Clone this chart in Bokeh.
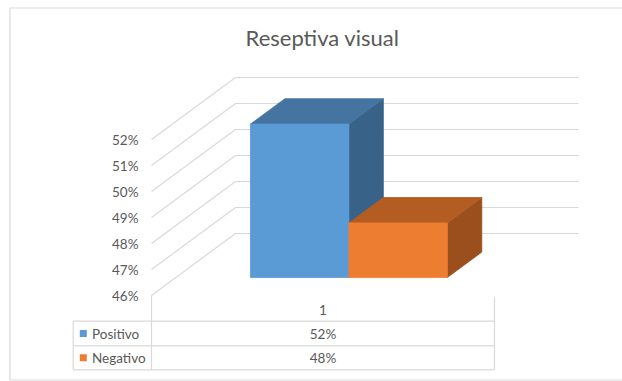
from bokeh.plotting import figure
from bokeh.models import Range1d
from bokeh.core.properties import value
from bokeh.embed import file_html
from bokeh.resources import INLINE

# ---------------- data ----------------
title_text = "Reseptiva visual"
categories = ["1"]
series_names = ["Positivo", "Negativo"]
series_values = [51.9, 48.1]          # percent
series_labels = ["52%", "48%"]
tick_values = [46, 47, 48, 49, 50, 51, 52]
tick_labels = ["46%", "47%", "48%", "49%", "50%", "51%", "52%"]
front_colors = ["#5B9BD5", "#ED7D31"]
top_colors = ["#4674A1", "#B45D22"]
side_colors = ["#386287", "#9A4F1C"]

# ---------------- geometry / style ----------------
W, H = 622, 381
X0_PX, PX_PER_X = 151.0, 343.0        # category axis: 0..1 spans floor front
Y0_PX, PX_PER_PCT = 295.0, 26.0       # 46% at front floor
BASE = tick_values[0]

def xd(px):
    return (px - X0_PX) / PX_PER_X

def yd(py):
    return BASE + (Y0_PX - py) / PX_PER_PCT

DX = 84.0 / PX_PER_X                  # full depth offset (x units)
DY = 62.0 / PX_PER_PCT                # full depth offset (percent units)
Z0, Z1 = 0.29, 0.70                   # bar depth
GAP, BAR_W = 0.2175, 0.287

def P(x, v, z):
    return x + z * DX, v + z * DY

GRID = "#D9D9D9"
TXT = "#595959"
FONT = value("Lato")
FS = "13.5px"

p = figure(width=W, height=H, output_backend="svg", toolbar_location=None,
           x_range=Range1d(xd(0), xd(W)), y_range=Range1d(yd(H), yd(0)),
           x_axis_type=None, y_axis_type=None, min_border=0,
           min_border_left=0, min_border_right=0, min_border_top=0, min_border_bottom=0)
p.grid.visible = False
p.outline_line_color = None
p.background_fill_color = "white"
p.border_fill_color = "white"

# chart area border
bx0, bx1, by0, by1 = xd(9.5), xd(W + 5), yd(7.5), yd(379.5)
p.line([bx1, bx0, bx0, bx1], [by0, by0, by1, by1], line_color=GRID, line_width=1.2)

# back wall gridlines + side wall diagonals
for v in tick_values:
    fx, fy = P(0, v, 0)
    bxl, byl = P(0, v, 1)
    bxr, byr = P(1, v, 1)
    p.line([fx, bxl, bxr], [fy, byl, byr], line_color=GRID, line_width=1.2)

# tick labels
p.text(x=[xd(138)] * len(tick_values), y=tick_values, text=tick_labels,
       text_font=FONT, text_font_size=FS, text_color=TXT,
       text_align="right", text_baseline="middle")

# 3D bars
for i, (val, fc, tc, sc) in enumerate(zip(series_values, front_colors, top_colors, side_colors)):
    x0 = GAP + i * BAR_W
    x1 = x0 + BAR_W
    side = [P(x1, BASE, Z0), P(x1, BASE, Z1), P(x1, val, Z1), P(x1, val, Z0)]
    top = [P(x0, val, Z0), P(x1, val, Z0), P(x1, val, Z1), P(x0, val, Z1)]
    front = [P(x0, BASE, Z0), P(x1, BASE, Z0), P(x1, val, Z0), P(x0, val, Z0)]
    for poly, col in ((side, sc), (top, tc), (front, fc)):
        p.patch([q[0] for q in poly], [q[1] for q in poly], fill_color=col,
                line_color=col, line_width=0.8)

# data table
t_left, t_div, t_right = xd(72.7), 0.0, 1.0
r_top, r1, r2, r3 = yd(296.7), yd(320.7), yd(345.3), yd(369.3)
p.line([0, 0], [BASE, r3], line_color=GRID, line_width=1.2)
p.line([t_right, t_right], [r_top, r3], line_color=GRID, line_width=1.2)
p.line([t_left, t_left], [r1, r3], line_color=GRID, line_width=1.2)
for ry in (r1, r2, r3):
    p.line([t_left, t_right], [ry, ry], line_color=GRID, line_width=1.2)

p.text(x=[0.5], y=[yd(309.5)], text=categories, text_font=FONT,
       text_font_size=FS, text_color=TXT, text_align="center", text_baseline="middle")
row_y = [yd(333.0), yd(357.3)]
p.text(x=[0.5] * 2, y=row_y, text=series_labels, text_font=FONT,
       text_font_size=FS, text_color=TXT, text_align="center", text_baseline="middle")
p.text(x=[xd(91.5)] * 2, y=row_y, text=series_names, text_font=FONT,
       text_font_size=FS, text_color=TXT, text_align="left", text_baseline="middle")
p.rect(x=[xd(82.8)] * 2, y=row_y, width=7 / PX_PER_X, height=7 / PX_PER_PCT,
       fill_color=front_colors, line_color=None)

# title
p.text(x=[xd(322)], y=[yd(37)], text=[title_text], text_font=FONT,
       text_font_size="22px", text_color=TXT, text_align="center", text_baseline="middle")

open("out.html", "w").write(file_html(p, INLINE))
